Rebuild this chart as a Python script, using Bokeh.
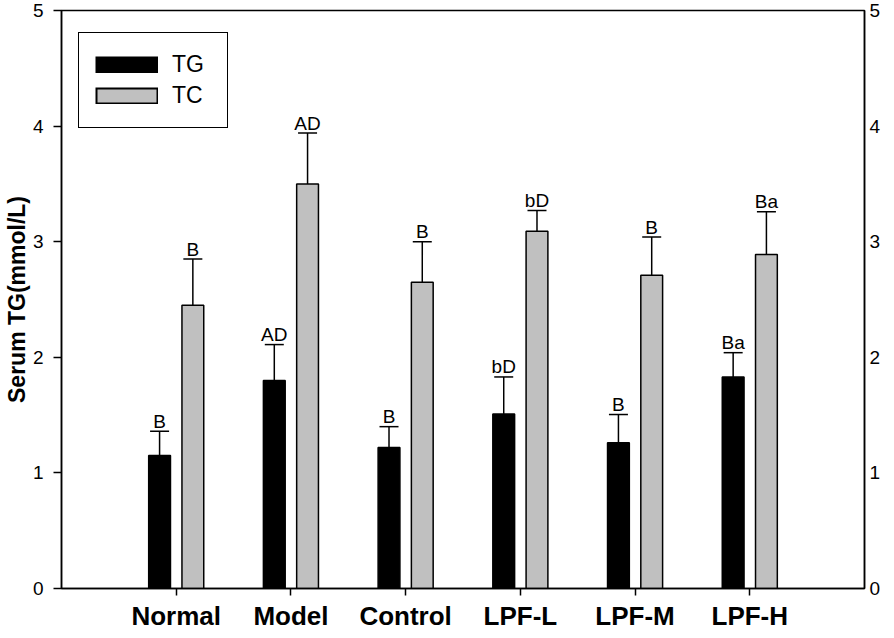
from bokeh.plotting import figure
from bokeh.models import (ColumnDataSource, Whisker, TeeHead, LinearAxis, FixedTicker,
                          Legend, LegendItem, Range1d)
from bokeh.core.properties import value
from bokeh.embed import file_html
from bokeh.resources import INLINE
import numpy as np

categories = ["Normal", "Model", "Control", "LPF-L", "LPF-M", "LPF-H"]
tg_mean = [1.15, 1.80, 1.22, 1.51, 1.26, 1.83]
tg_upper = [1.36, 2.11, 1.40, 1.83, 1.505, 2.04]
tc_mean = [2.45, 3.50, 2.65, 3.09, 2.71, 2.89]
tc_upper = [2.85, 3.94, 3.00, 3.27, 3.04, 3.26]
tg_letters = ["B", "AD", "B", "bD", "B", "Ba"]
tc_letters = ["B", "AD", "B", "bD", "B", "Ba"]
y_ticks = [0, 1, 2, 3, 4, 5]

FONT = value("Liberation Sans")
TC_GRAY = "#c0c0c0"
pos = np.arange(1, len(categories) + 1)
off = 0.145
bw = 0.19
FH = 578

tg_src = ColumnDataSource(dict(x=pos - off, top=tg_mean, upper=tg_upper, lab=tg_letters))
tc_src = ColumnDataSource(dict(x=pos + off, top=tc_mean, upper=tc_upper, lab=tc_letters))

p = figure(frame_width=803, frame_height=FH, output_backend="svg", toolbar_location=None,
           x_range=Range1d(0, len(categories) + 1), y_range=Range1d(0, 5),
           min_border_left=59, min_border_right=16, min_border_top=10, min_border_bottom=43,
           y_axis_location=None)
p.xgrid.grid_line_color = None
p.ygrid.grid_line_color = None
p.outline_line_color = "black"
p.outline_line_alpha = 1
p.outline_line_width = 1.5
p.background_fill_color = "white"
p.border_fill_color = "white"

r_tg = p.vbar(x="x", top="top", width=bw, source=tg_src, fill_color="black",
              line_color="black", line_width=1.5)
r_tc = p.vbar(x="x", top="top", width=bw, source=tc_src, fill_color=TC_GRAY,
              line_color="black", line_width=1.5)

for src in (tg_src, tc_src):
    w = Whisker(source=src, base="x", lower="top", upper="upper", dimension="height",
                line_color="black", line_width=1.5, lower_head=None,
                upper_head=TeeHead(size=19, line_color="black", line_width=1.5))
    p.add_layout(w)
    p.text(x="x", y="upper", text="lab", source=src, text_align="center",
           text_baseline="alphabetic", y_offset=-10, text_font=FONT,
           text_font_size="19px", text_color="black")

# legend swatches: legend-only line renderers with a single (invisible) point
sw_src = ColumnDataSource(dict(x=[float(pos[0])], y=[0.0]))
lg_tg = p.line(x="x", y="y", source=sw_src, line_color="black", line_width=17)
lg_tc_edge = p.line(x="x", y="y", source=sw_src, line_color="black", line_width=17)
lg_tc_fill = p.line(x="x", y="y", source=sw_src, line_color=TC_GRAY, line_width=13,
                    line_dash="59 1000", line_dash_offset=-2)

# x axis
xa = p.xaxis[0]
xa.ticker = FixedTicker(ticks=list(pos))
xa.major_label_overrides = {int(i): c for i, c in zip(pos, categories)}
xa.major_label_text_font = "Liberation Sans"
xa.major_label_text_font_style = "bold"
xa.major_label_text_font_size = "26px"
xa.major_label_text_color = "black"
xa.major_tick_out = 7
xa.major_tick_in = 0
xa.minor_tick_out = 0
xa.minor_tick_in = 0
xa.major_label_standoff = 5
xa.axis_line_width = 1.5
xa.major_tick_line_width = 1.5

# left axis
ya = LinearAxis(ticker=FixedTicker(ticks=y_ticks), axis_label="Serum TG(mmol/L)")
ya.axis_label_text_font = "Liberation Sans"
ya.axis_label_text_font_style = "bold"
ya.axis_label_text_font_size = "23px"
ya.axis_label_text_color = "black"
ya.axis_label_standoff = 0
ya.major_label_text_font = "Liberation Sans"
ya.major_label_text_font_size = "19px"
ya.major_label_text_color = "black"
ya.major_tick_out = 8
ya.major_tick_in = 0
ya.minor_tick_out = 0
ya.minor_tick_in = 0
ya.major_label_standoff = 10
ya.axis_line_width = 1.5
ya.major_tick_line_width = 1.5
p.add_layout(ya, "left")

# right axis
ya2 = LinearAxis(ticker=FixedTicker(ticks=y_ticks))
ya2.major_label_text_font = "Liberation Sans"
ya2.major_label_text_font_size = "19px"
ya2.major_label_text_color = "black"
ya2.major_tick_out = 0
ya2.major_tick_in = 0
ya2.minor_tick_out = 0
ya2.minor_tick_in = 0
ya2.major_label_standoff = 5
ya2.axis_line_width = 1.5
p.add_layout(ya2, "right")

legend = Legend(items=[LegendItem(label="TG", renderers=[lg_tg], index=0),
                       LegendItem(label="TC", renderers=[lg_tc_edge, lg_tc_fill], index=0)],
                location=(17, FH - 24 - 94))
legend.glyph_width = 63
legend.glyph_height = 17
legend.label_text_font = "Liberation Sans"
legend.label_text_font_size = "23px"
legend.label_text_color = "black"
legend.label_standoff = 14
legend.label_width = 39
legend.label_height = 31
legend.padding = 16
legend.spacing = 0
legend.border_line_color = "black"
legend.border_line_alpha = 1
legend.border_line_width = 1.5
legend.background_fill_alpha = 1
p.add_layout(legend)

open("out.html", "w").write(file_html(p, INLINE))
